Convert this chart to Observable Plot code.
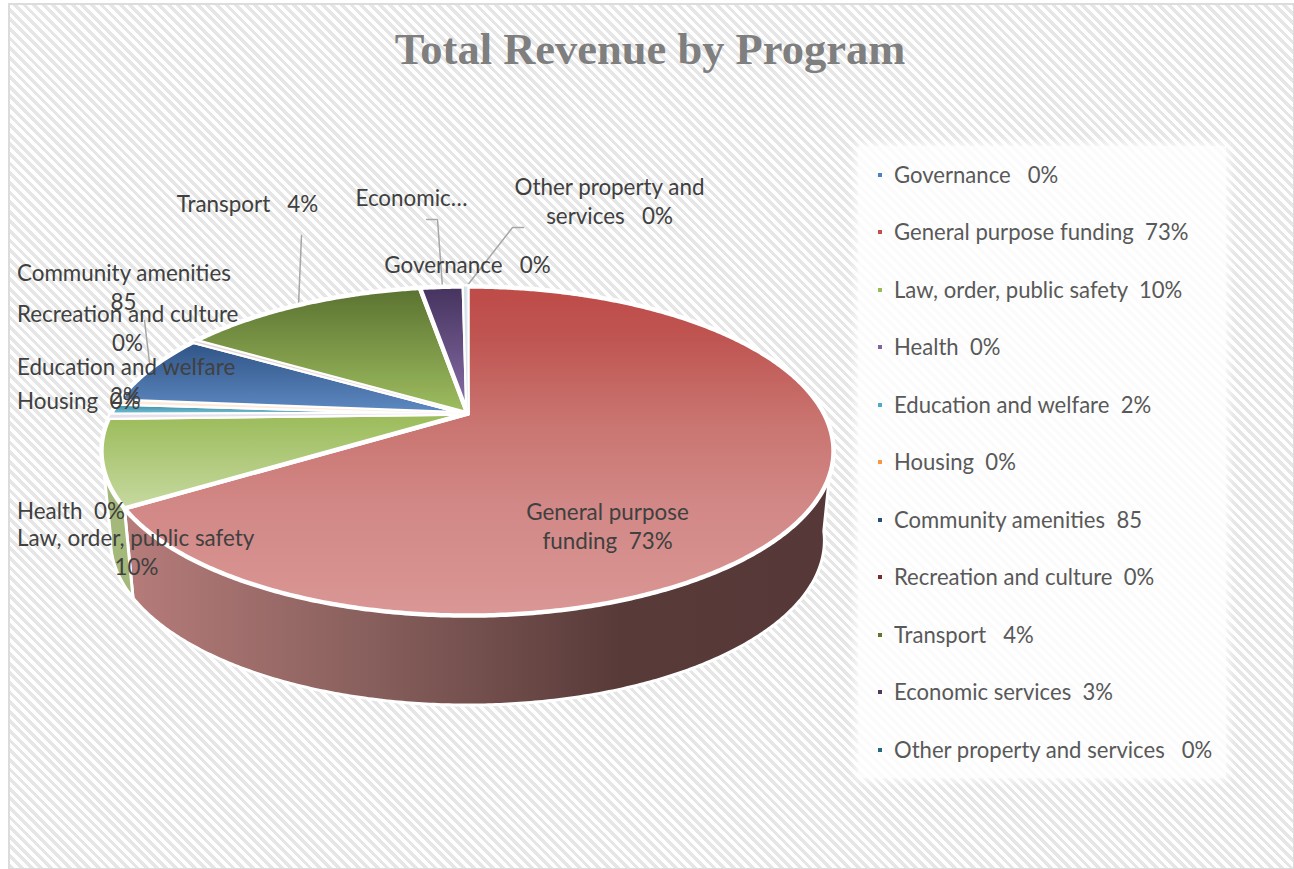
<!DOCTYPE html>
<html>
<head>
<meta charset="utf-8">
<script src="https://cdn.jsdelivr.net/npm/d3@7"></script>
<script src="https://cdn.jsdelivr.net/npm/@observablehq/plot@0.6"></script>
<style>
html,body{margin:0;padding:0;background:#fff;}
#page{position:relative;width:1294px;height:869px;overflow:hidden;}
#bg{position:absolute;left:8px;top:3px;width:1283px;height:863px;border:2px solid #dcdcdc;
 background:repeating-linear-gradient(45deg,#e6e6e6 0,#e6e6e6 3.4px,#fff 3.4px,#fff 6.8px);}
#title{position:absolute;left:0;width:1300px;top:22px;text-align:center;font:bold 44.5px/54px "Liberation Serif",serif;color:#7f7f7f;}
#chart{position:absolute;left:0;top:0;}
#legend{position:absolute;left:858px;top:146px;width:368px;height:632px;background:rgba(255,255,255,.84);box-shadow:0 0 8px 3px rgba(255,255,255,.75);}
.item{position:absolute;left:36px;font:22.1px/28px Lato,sans-serif;color:#595959;white-space:pre;}
.swatch{position:absolute;left:20px;width:4px;height:4px;}
</style>
</head>
<body>
<div id="page">
<div id="bg"></div>
<div id="title">Total Revenue by Program</div>
<div id="chart"></div>
<div id="legend"></div>
</div>
<script>
// ---- data ----
const categories = ["Governance","General purpose funding","Law, order, public safety","Health","Education and welfare","Housing","Community amenities","Recreation and culture","Transport","Economic services","Other property and services"];
const printedValues = ["0%","73%","10%","0%","2%","0%","85","0%","4%","3%","0%"];
const legendGaps = ["   ","  ","  ","  ","  ","  ","  ","  ","   ","  ","   "];
const drawnShares = [0.1,65.7,8.5,0.3,1.15,0.3,7.2,0.15,13.6,2.4,0.1];
const seriesColors = ["#4F81BD","#C0504D","#9BBB59","#8064A2","#4BACC6","#F79646","#2C4D75","#772C2A","#5F7530","#4D3B62","#276A7C"];
const faceTop = ["#4F81BD","#BE4B48","#9BBB59","#8064A2","#31859C","#F79646","#2F5386","#772C2A","#5A7230","#45335E","#276A7C"];
const faceBottom = ["#95B3D7","#DA9795","#C6D9A0","#B2A1C7","#7FC6DA","#FBD5B5","#5E8AC2","#D99694","#9FBE60","#8A70AA","#93CDDD"];

// ---- pie geometry: a tilted disc seen in perspective ----
const pie = {cx:467, cy:413, a:356.4, b:156, k:-0.228, depth:89.5, shrink:0.975};
const rim = t => { // t: angle clockwise from the top
  const u = Math.sin(t), v = -Math.cos(t), w = 1 + pie.k*v;
  return {x: pie.cx + pie.a*u/w, y: pie.cy + pie.b*v/w};
};
const low = p => ({x: pie.cx + (p.x-pie.cx)*pie.shrink, y: p.y + pie.depth});
const total = d3.sum(drawnShares);
const arcs = d3.pie().sort(null).startAngle(-2*Math.PI*drawnShares[0]/total).endAngle(2*Math.PI*(1-drawnShares[0]/total))(drawnShares);
const rad = d => d*Math.PI/180;
const sweep = (a,b) => { const n = Math.max(2,Math.ceil(Math.abs(b-a)/rad(0.5))); return d3.range(n+1).map(i => a+(b-a)*i/n); };
const faces = arcs.map(s => {
  const pts = sweep(s.startAngle,s.endAngle).map(rim);
  return [{x:pie.cx,y:pie.cy},...pts,{x:pie.cx,y:pie.cy}];
});
const wall = (a,b) => {
  const top = sweep(a,b).map(rim);
  const r = [...top,...top.slice().reverse().map(low)];
  r.push(r[0]);
  return r;
};
const generalEnd = arcs[1].endAngle;
const wallGeneral = wall(rad(100),generalEnd);
const wallLaw = wall(generalEnd,rad(258));

const defs = () => {
  let s = faceTop.map((c,i)=> i===1
    ? `<linearGradient id="face1" x1="0" y1="0" x2="0" y2="1"><stop offset="0" stop-color="#BE4B48"/><stop offset=".15" stop-color="#BF5451"/><stop offset=".4" stop-color="#C9736F"/><stop offset=".65" stop-color="#D18785"/><stop offset="1" stop-color="#DA9795"/></linearGradient>`
    : `<linearGradient id="face${i}" x1="0" y1="0" x2="0" y2="1"><stop offset="0" stop-color="${c}"/><stop offset="1" stop-color="${faceBottom[i]}"/></linearGradient>`).join("");
  s += `<linearGradient id="wallG" x1="0" y1="0" x2="1" y2="0"><stop offset="0" stop-color="#B67C7A"/><stop offset=".35" stop-color="#875F5C"/><stop offset=".7" stop-color="#583A39"/><stop offset="1" stop-color="#553837"/></linearGradient>`;
  return d3.create("svg:defs").html(s).node();
};

// ---- annotation layout ----
const font = {fontFamily:"Lato, sans-serif", fontSize:22.4, fill:"#404040", lineHeight:1.32};
const leftLabels = [[16.5,271,"Community amenities"],[16.5,312,"Recreation and culture"],[16.5,365,"Education and welfare"],[16.5,399,"Housing  0%"],[16.5,509,"Health  0%"],[16.5,536,"Law, order, public safety"]];
const midLabels = [[123,300,"85"],[127,341,"0%"],[125,394,"2%"],[136,565,"10%"],
  [607,510,"General purpose"],[607,539,"funding  73%"],[411,196,"Economic…"],[247,202,"Transport   4%"],[467,263,"Governance   0%"],[609,185,"Other property and"],[609,214,"services   0%"]];
const leaders = [
  [{x:301,y:235},{x:298,y:305}],
  [{x:144,y:320},{x:149,y:362}],
  [{x:426,y:219},{x:437,y:219},{x:442,y:287}],
  [{x:523,y:227},{x:512,y:227},{x:466,y:286}]
];
const line = (pts,o) => Plot.line(pts,{x:"x",y:"y",curve:"linear",...o});

const plot = Plot.plot({
  width:1294,height:869,margin:0,
  x:{domain:[0,1294],range:[0,1294],axis:null},
  y:{domain:[0,869],range:[0,869],axis:null},
  style:{background:"transparent"},
  marks:[
    defs,
    ...leaders.map(p=>line(p,{stroke:"#a6a6a6",strokeWidth:1.5})),
    line(wallGeneral,{fill:"url(#wallG)",stroke:"white",strokeWidth:3}),
    line(wallLaw,{fill:"#A3B87A",stroke:"white",strokeWidth:3}),
    ...faces.map((f,i)=>line(f,{fill:`url(#face${i})`,stroke:"white",strokeWidth:4.5})),
    ...faces.filter((f,i)=>drawnShares[i]<0.5).map((f)=>line(f,{fill:seriesColors[faces.indexOf(f)],fillOpacity:0.2,stroke:"none"})),
    Plot.text(leftLabels,{x:d=>d[0],y:d=>d[1],text:d=>d[2],textAnchor:"start",...font}),
    Plot.text(midLabels,{x:d=>d[0],y:d=>d[1],text:d=>d[2],textAnchor:"middle",...font})
  ]
});
document.getElementById("chart").append(plot);

const legend = document.getElementById("legend");
categories.forEach((c,i)=>{
  const y = 28.5 + i*57.5;
  const sw = document.createElement("div");
  sw.className="swatch"; sw.style.top=(y-2)+"px"; sw.style.background=seriesColors[i];
  const t = document.createElement("div");
  t.className="item"; t.style.top=(y-14)+"px"; t.textContent=c+legendGaps[i]+printedValues[i];
  legend.append(sw,t);
});
</script>
</body>
</html>
